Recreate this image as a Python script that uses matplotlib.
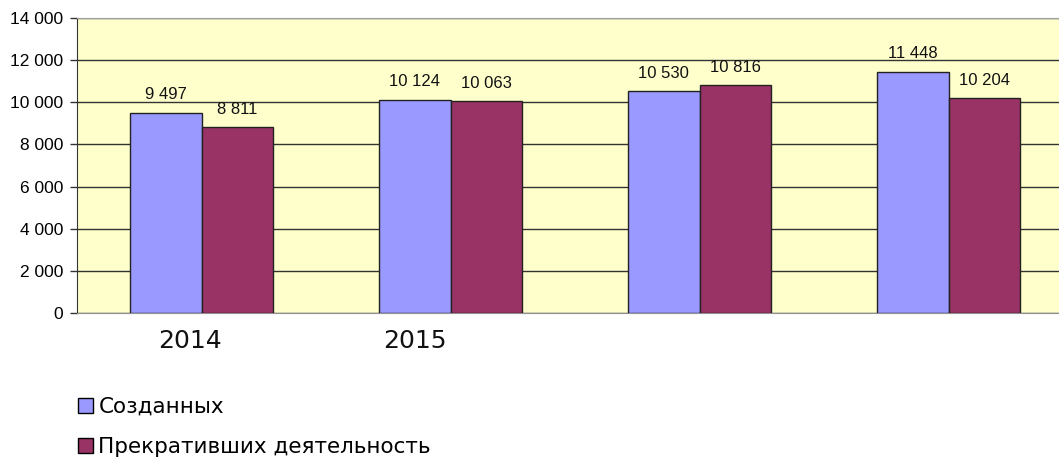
import matplotlib.pyplot as plt
import numpy as np
from matplotlib.patches import Patch

# данные
groups = ['2014', '2015', '', '']
sozdannyh = [9497, 10124, 10530, 11448]
prekrativshih = [8811, 10063, 10816, 10204]
series_names = ['Созданных', 'Прекративших деятельность']
yticks = [0, 2000, 4000, 6000, 8000, 10000, 12000, 14000]

blue = '#9999FF'
maroon = '#993366'

def fmt(v):
    return f'{v:,}'.replace(',', ' ')

fig = plt.figure(figsize=(10.59, 4.63), dpi=100)
ax = fig.add_axes([77 / 1059, 150 / 463, 996 / 1059, 295 / 463])
ax.set_facecolor('#FFFFCC')

x = np.arange(len(groups))
w = 0.286
b1 = ax.bar(x - w / 2, sozdannyh, w, color=blue, edgecolor='#222222', linewidth=1, zorder=3)
b2 = ax.bar(x + w / 2, prekrativshih, w, color=maroon, edgecolor='#222222', linewidth=1, zorder=3)

for bars, vals in [(b1, sozdannyh), (b2, prekrativshih)]:
    for r, v in zip(bars, vals):
        ax.annotate(fmt(v), (r.get_x() + r.get_width() / 2, v), xytext=(0, 7.5),
                    textcoords='offset points', ha='center', va='bottom',
                    fontsize=12, family='Liberation Sans', color='#111111')

ax.set_xlim(-0.5, len(groups) - 0.5)
ax.set_ylim(0, 14000)
ax.set_yticks(yticks)
ax.set_yticklabels([fmt(t) for t in yticks], fontsize=12.5, family='Liberation Sans')
ax.tick_params(axis='y', length=5, width=1, pad=5, color='#333333')
ax.set_xticks([])
ax.yaxis.grid(True, color='#333333', linewidth=1)
ax.set_axisbelow(True)

ax.spines['top'].set_color('#A0A0A0')
ax.spines['bottom'].set_color('#909090')
ax.spines['left'].set_color('#333333')
ax.spines['right'].set_visible(False)

# подписи годов (сдвинуты относительно центров групп, как в оригинале)
offsets = [-0.046, -0.143]
for i, lab in enumerate(groups):
    if lab:
        ax.text(x[i] + offsets[i], -0.095, lab, transform=ax.get_xaxis_transform(),
                ha='center', va='center', fontsize=18, family='DejaVu Sans', color='#111111')

handles = [Patch(facecolor=blue, edgecolor='black'), Patch(facecolor=maroon, edgecolor='black')]
fig.legend(handles, series_names, loc='upper left', bbox_to_anchor=(78 / 1059, 1 - 397 / 463),
           frameon=False, prop={'family': 'DejaVu Sans', 'size': 15.5},
           handlelength=0.7, handleheight=0.7, handletextpad=0.25, labelspacing=0.95,
           borderaxespad=0, borderpad=0)

fig.savefig('out.png', dpi=100)
